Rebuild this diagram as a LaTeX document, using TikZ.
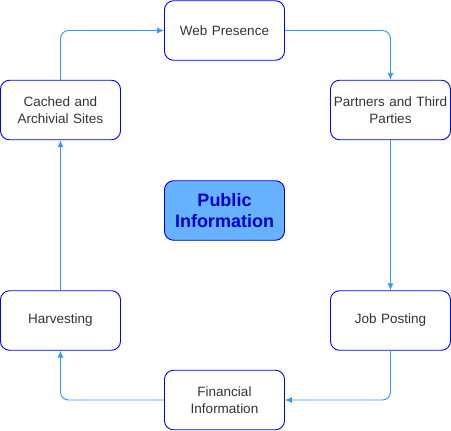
\documentclass[tikz,border=0pt]{standalone}
\usepackage{fontspec}
\setmainfont{Liberation Sans}
\usetikzlibrary{arrows.meta}
\definecolor{boxblue}{HTML}{0000FF}
\definecolor{linkblue}{HTML}{3399FF}
\definecolor{pubfill}{HTML}{66B2FF}
\definecolor{pubtext}{HTML}{0000CC}
\definecolor{txt}{HTML}{333333}
\begin{document}
\begin{tikzpicture}[x=1pt,y=-1pt,
  box/.style={draw=boxblue, line width=0.9pt, rounded corners=9pt, minimum width=120pt, minimum height=59.5pt, align=center, text=txt, font=\fontsize{13.5}{16.5}\selectfont, inner sep=1pt, text width=118pt},
  pub/.style={box, fill=pubfill, draw=pubtext, text=pubtext, font=\bfseries\fontsize{18}{21}\selectfont},
  link/.style={draw=linkblue, line width=0.9pt, rounded corners=8pt, -{Latex[length=7pt,width=6pt]}}]
\useasboundingbox (0,0) rectangle (451,431);
\node[box] (web) at (224.5,30.5) {Web Presence};
\node[box] (part) at (390.5,110) {Partners and Third\\Parties};
\node[box] (cache) at (60.5,110) {Cached and\\Archivial Sites};
\node[pub] (pubi) at (224.5,210.5) {Public\\Information};
\node[box] (harv) at (60.5,320.5) {Harvesting};
\node[box] (job) at (390.5,320.5) {Job Posting};
\node[box] (fin) at (224.5,400) {Financial\\Information};
\draw[link] (web.east) -| (part.north);
\draw[link] (part.south) -- (job.north);
\draw[link] (job.south) |- (fin.east);
\draw[link] (fin.west) -| (harv.south);
\draw[link] (harv.north) -- (cache.south);
\draw[link] (cache.north) |- (web.west);
\end{tikzpicture}
\end{document}
